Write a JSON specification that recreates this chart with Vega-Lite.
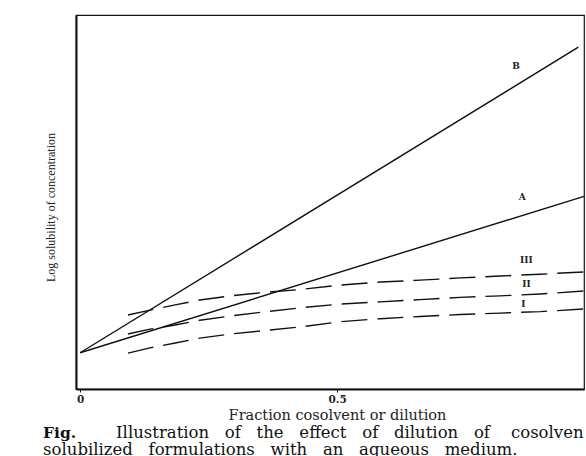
{
  "$schema": "https://vega.github.io/schema/vega-lite/v6.json",
  "autosize": "none",
  "width": 508,
  "height": 374,
  "padding": {"left": 76, "top": 15, "right": 2, "bottom": 67},
  "background": "white",
  "config": {"view": {"stroke": "#111", "strokeWidth": 1.2}, "font": "DejaVu Serif"},
  "datasets": {
    "solid": [
      {"series": "B", "x": 0, "y": 0.097},
      {"series": "B", "x": 0.969, "y": 0.914},
      {"series": "A", "x": 0, "y": 0.097},
      {"series": "A", "x": 0.98, "y": 0.515}
    ],
    "dashed": [
      {"series": "III", "x": 0.093, "y": 0.198},
      {"series": "III", "x": 0.136, "y": 0.211},
      {"series": "III", "x": 0.185, "y": 0.225},
      {"series": "III", "x": 0.233, "y": 0.238},
      {"series": "III", "x": 0.292, "y": 0.249},
      {"series": "III", "x": 0.350, "y": 0.257},
      {"series": "III", "x": 0.428, "y": 0.266},
      {"series": "III", "x": 0.506, "y": 0.278},
      {"series": "III", "x": 0.584, "y": 0.286},
      {"series": "III", "x": 0.661, "y": 0.291},
      {"series": "III", "x": 0.739, "y": 0.297},
      {"series": "III", "x": 0.817, "y": 0.302},
      {"series": "III", "x": 0.895, "y": 0.307},
      {"series": "III", "x": 0.98, "y": 0.313},
      {"series": "II", "x": 0.093, "y": 0.147},
      {"series": "II", "x": 0.136, "y": 0.160},
      {"series": "II", "x": 0.185, "y": 0.171},
      {"series": "II", "x": 0.233, "y": 0.184},
      {"series": "II", "x": 0.292, "y": 0.195},
      {"series": "II", "x": 0.350, "y": 0.205},
      {"series": "II", "x": 0.428, "y": 0.217},
      {"series": "II", "x": 0.506, "y": 0.227},
      {"series": "II", "x": 0.584, "y": 0.233},
      {"series": "II", "x": 0.661, "y": 0.239},
      {"series": "II", "x": 0.739, "y": 0.245},
      {"series": "II", "x": 0.817, "y": 0.249},
      {"series": "II", "x": 0.895, "y": 0.254},
      {"series": "II", "x": 0.98, "y": 0.262},
      {"series": "I", "x": 0.093, "y": 0.096},
      {"series": "I", "x": 0.136, "y": 0.110},
      {"series": "I", "x": 0.185, "y": 0.123},
      {"series": "I", "x": 0.233, "y": 0.136},
      {"series": "I", "x": 0.292, "y": 0.147},
      {"series": "I", "x": 0.350, "y": 0.155},
      {"series": "I", "x": 0.428, "y": 0.166},
      {"series": "I", "x": 0.506, "y": 0.180},
      {"series": "I", "x": 0.584, "y": 0.188},
      {"series": "I", "x": 0.661, "y": 0.194},
      {"series": "I", "x": 0.739, "y": 0.199},
      {"series": "I", "x": 0.817, "y": 0.203},
      {"series": "I", "x": 0.895, "y": 0.207},
      {"series": "I", "x": 0.98, "y": 0.214}
    ],
    "labels": [
      {"x": 0.848, "y": 0.864, "text": "B"},
      {"x": 0.860, "y": 0.513, "text": "A"},
      {"x": 0.868, "y": 0.345, "text": "III"},
      {"x": 0.868, "y": 0.281, "text": "II"},
      {"x": 0.862, "y": 0.227, "text": "I"}
    ],
    "captionBold": [
      {"x": -0.072, "y": -0.132, "text": "Fig."}
    ],
    "caption": [
      {"x": 0.070, "y": -0.132, "text": "Illustration\u00a0\u00a0\u00a0of\u00a0\u00a0\u00a0the\u00a0\u00a0\u00a0effect\u00a0\u00a0\u00a0of\u00a0\u00a0\u00a0dilution\u00a0\u00a0\u00a0of\u00a0\u00a0\u00a0\u00a0cosolven"},
      {"x": -0.072, "y": -0.176, "text": "solubilized\u00a0\u00a0\u00a0formulations\u00a0\u00a0\u00a0with\u00a0\u00a0\u00a0an\u00a0\u00a0\u00a0aqueous\u00a0\u00a0\u00a0medium."}
    ]
  },
  "encoding": {
    "x": {
      "field": "x", "type": "quantitative",
      "scale": {"domain": [-0.008, 0.98], "nice": false, "zero": false},
      "axis": {
        "values": [0, 0.5],
        "labelExpr": "datum.value == 0 ? '0' : '0.5'",
        "grid": false,
        "domainColor": "#111", "domainWidth": 1.8,
        "tickColor": "#111", "tickSize": 3,
        "labelFont": "DejaVu Serif", "labelFontWeight": "bold", "labelFontSize": 10.5,
        "labelPadding": 2, "labelColor": "#222",
        "title": "Fraction cosolvent or dilution",
        "titleFont": "DejaVu Serif", "titleFontWeight": "normal", "titleFontSize": 14.5,
        "titleColor": "#222", "titleX": 261, "titleY": 30, "titleBaseline": "alphabetic", "titleAlign": "center"
      }
    },
    "y": {
      "field": "y", "type": "quantitative",
      "scale": {"domain": [0, 1], "nice": false, "zero": false},
      "axis": {
        "labels": false, "ticks": false, "grid": false,
        "domainColor": "#111", "domainWidth": 2,
        "title": "Log solubility of concentration",
        "titleFont": "Liberation Serif", "titleFontWeight": "normal", "titleFontSize": 12,
        "titleColor": "#222", "titleX": -26, "titleY": 192, "titleAngle": -90,
        "titleAlign": "center", "titleBaseline": "middle"
      }
    }
  },
  "layer": [
    {
      "data": {"name": "solid"},
      "mark": {"type": "line", "color": "#111", "strokeWidth": 1.4},
      "encoding": {"detail": {"field": "series"}}
    },
    {
      "data": {"name": "dashed"},
      "mark": {"type": "line", "color": "#111", "strokeWidth": 1.4, "strokeDash": [26, 10]},
      "encoding": {"detail": {"field": "series"}}
    },
    {
      "data": {"name": "labels"},
      "mark": {"type": "text", "font": "DejaVu Serif", "fontWeight": "bold", "fontSize": 9, "color": "#222", "align": "center", "baseline": "middle"},
      "encoding": {"text": {"field": "text"}}
    },
    {
      "data": {"name": "captionBold"},
      "mark": {"type": "text", "font": "DejaVu Serif", "fontWeight": "bold", "fontSize": 15.5, "color": "#111", "align": "left", "baseline": "alphabetic"},
      "encoding": {"text": {"field": "text"}}
    },
    {
      "data": {"name": "caption"},
      "mark": {"type": "text", "font": "DejaVu Serif", "fontSize": 16.5, "color": "#111", "align": "left", "baseline": "alphabetic"},
      "encoding": {"text": {"field": "text"}}
    }
  ]
}
